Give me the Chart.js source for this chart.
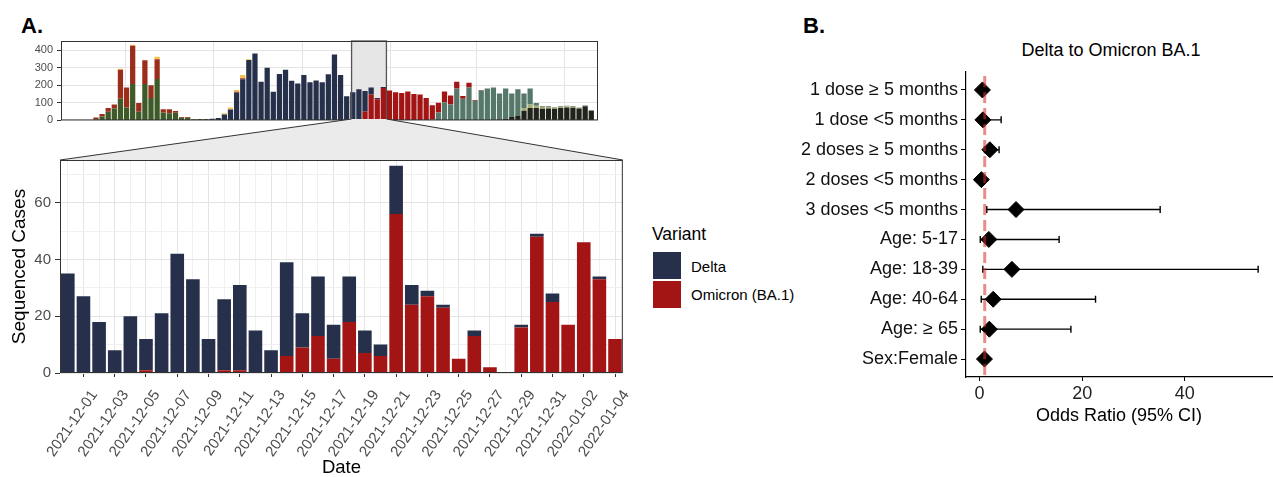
<!DOCTYPE html>
<html lang="en">
<head>
<meta charset="UTF-8" />
<title>Delta to Omicron BA.1</title>
<script src="https://cdn.jsdelivr.net/npm/chart.js"></script>
<style>
  html, body { margin: 0; padding: 0; overflow: hidden; background: #fff; }
  body { position: relative; width: 1273px; height: 477px; font-family: "Liberation Sans", Arial, sans-serif; color: #000; }
  canvas, .txt { position: absolute; }
  .tag { font-weight: bold; font-size: 22px; line-height: 26px; }
  .legend-title { font-size: 17.5px; line-height: 20px; }
  .legend-label { font-size: 15px; line-height: 18px; }
  .swatch { position: absolute; left: 653px; width: 28px; height: 27px; }
</style>
</head>
<body>
  <div class="txt tag" style="left:21px; top:13px;">A.</div>
  <div class="txt tag" style="left:803px; top:13px;">B.</div>

  <canvas id="overview" width="640" height="131" style="left:0; top:0;"></canvas>
  <canvas id="daily" width="640" height="360" style="left:0; top:119px;"></canvas>

  <div class="txt legend-title" style="left:652px; top:224px;">Variant</div>
  <div class="swatch" id="swDelta" style="top:252px;"></div>
  <div class="swatch" id="swOmicron" style="top:281px;"></div>
  <div class="txt legend-label" style="left:691px; top:258px;">Delta</div>
  <div class="txt legend-label" style="left:691px; top:286px;">Omicron (BA.1)</div>

  <div class="txt" style="left:961px; top:39px; width:300px; text-align:center; font-size:18px; line-height:22px;">Delta to Omicron BA.1</div>
  <canvas id="forest" width="501" height="477" style="left:780px; top:0;"></canvas>

<script>
Chart.defaults.font.family = '"Liberation Sans", Arial, Helvetica, sans-serif';

const NAVY = '#27304a';
const RED = '#a31515';

// daily sequenced cases
const dayLabels = [
  '2021-11-30', '2021-12-01', '2021-12-02', '2021-12-03', '2021-12-04', '2021-12-05',
  '2021-12-06', '2021-12-07', '2021-12-08', '2021-12-09', '2021-12-10', '2021-12-11',
  '2021-12-12', '2021-12-13', '2021-12-14', '2021-12-15', '2021-12-16', '2021-12-17',
  '2021-12-18', '2021-12-19', '2021-12-20', '2021-12-21', '2021-12-22', '2021-12-23',
  '2021-12-24', '2021-12-25', '2021-12-26', '2021-12-27', '2021-12-28', '2021-12-29',
  '2021-12-30', '2021-12-31', '2022-01-01', '2022-01-02', '2022-01-03', '2022-01-04'
];
const deltaDaily = [35, 27, 18, 8, 20, 11, 21, 42, 33, 12, 25, 30, 15, 8, 33, 12, 21, 12,
                    16, 8, 4, 17, 7, 2, 1, 0, 2, 0, 0, 1, 1, 3, 0, 0, 1, 0];
const omicronDaily = [0, 0, 0, 0, 0, 1, 0, 0, 0, 0, 1, 1, 0, 0, 6, 9, 13, 5,
                      18, 7, 6, 56, 24, 27, 23, 5, 13, 2, 0, 16, 48, 25, 17, 46, 33, 12];

// weekly counts for the whole period; each run starts at the given week index
const nWeeks = 87;
const alphaWeekly   = weekSeries(5,  [5, 22, 50, 68, 123, 74, 207, 50, 207, 127, 236, 45, 41, 43, 15, 15, 6, 8, 8]);
const epsilonWeekly = weekSeries(5,  [12, 15, 20, 22, 166, 113, 219, 49, 136, 74, 113, 19, 23, 11, 4, 4, 0, 0, 0, 0, 0, 0, 0, 5, 6]);
const otherWeekly   = weekSeries(9,  [5, 0, 5, 0, 0, 0, 14, 0, 0, 0, 0, 0, 0, 0, 0, 0, 0, 8, 12, 10, 19, 5]);
const deltaWeekly   = weekSeries(24, [10, 13, 33, 62, 158, 234, 344, 382, 220, 300, 164, 265, 289, 226, 211, 259, 217, 228,
                                      217, 263, 376, 259, 138, 160, 174, 117, 39, 7, 6]);
const ba1Weekly     = weekSeries(48, [3, 51, 148, 121, 185, 170, 160, 156, 165, 150, 147, 128, 82, 55, 62, 52, 38, 16, 28, 4, 2]);
const ba2Weekly     = weekSeries(60, [5, 45, 103, 90, 182, 123, 187, 112, 171, 182, 184, 149, 172, 134, 152, 84, 92, 15,
                                      4, 4, 3, 3, 3, 3, 2, 2]);
const ba4Weekly     = weekSeries(75, [15, 20, 14, 10, 8, 7, 7, 7, 5, 4, 4]);
const ba5Weekly     = weekSeries(70, [3, 5, 10, 20, 25, 55, 70, 70, 66, 68, 66, 70, 74, 72, 68, 80, 56]);

// date breaks of the overview axis, in weeks
const overviewBreaks = [9.9, 24.3, 38.7, 53.1, 67.3, 81.7];
// span of the daily panel, in overview weeks
const zoomWindow = [46.8, 52.5];

// odds ratios, Delta -> Omicron BA.1
const factorLabels = ['1 dose \u2265 5 months', '1 dose <5 months', '2 doses \u2265 5 months', '2 doses <5 months',
                      '3 doses <5 months', 'Age: 5-17', 'Age: 18-39', 'Age: 40-64', 'Age: \u2265 65', 'Sex:Female'];
const oddsRatio = [0.55, 0.65, 2.0, 0.35, 7.1, 1.8, 6.3, 2.65, 1.9, 0.95];
const ciLower   = [0.2, 0.1, 0.95, 0.1, 1.4, 0.13, 0.63, 0.32, 0.13, 0.7];
const ciUpper   = [1.3, 4.2, 3.8, 0.9, 35.2, 15.5, 54.3, 22.6, 17.8, 1.3];
const orTicks = [0, 20, 40];
const orNull = 1;

function weekSeries(start, counts) {
  const out = new Array(nWeeks).fill(0);
  counts.forEach((c, i) => { out[start + i] = c; });
  return out;
}

document.getElementById('swDelta').style.background = NAVY;
document.getElementById('swOmicron').style.background = RED;

const MAJOR = '#e4e4e4';
const MINOR = '#f0f0f0';

// box around the plotting area
const panelFrame = {
  id: 'panelFrame',
  afterDraw(chart) {
    const { ctx, chartArea: a } = chart;
    ctx.save();
    ctx.strokeStyle = '#333';
    ctx.lineWidth = 1;
    ctx.strokeRect(a.left + 0.5, a.top + 0.5, a.width - 1, a.height - 1);
    ctx.restore();
  }
};

// shaded window on the overview
const zoomWindowBox = {
  id: 'zoomWindowBox',
  beforeDatasetsDraw(chart) {
    const { ctx, chartArea: a, scales: { x } } = chart;
    const xl = x.getPixelForValue(zoomWindow[0]);
    const xr = x.getPixelForValue(zoomWindow[1]);
    ctx.save();
    ctx.fillStyle = '#e6e6e6';
    ctx.fillRect(xl, a.top, xr - xl, a.bottom - a.top);
    ctx.restore();
  },
  afterDatasetsDraw(chart) {
    const { ctx, chartArea: a, scales: { x } } = chart;
    const xl = x.getPixelForValue(zoomWindow[0]);
    const xr = x.getPixelForValue(zoomWindow[1]);
    ctx.save();
    ctx.strokeStyle = '#555';
    ctx.lineWidth = 1.3;
    ctx.strokeRect(xl, a.top, xr - xl, a.bottom - a.top);
    ctx.restore();
  }
};

const overviewSeries = [
  { data: ba5Weekly, color: '#1f231a' },
  { data: ba4Weekly, color: '#a9ad74' },
  { data: ba2Weekly, color: '#56786b' },
  { data: ba1Weekly, color: RED },
  { data: deltaWeekly, color: NAVY },
  { data: alphaWeekly, color: '#3d5a28' },
  { data: epsilonWeekly, color: '#9a2e1b' },
  { data: otherWeekly, color: '#f2c14e' }
];
const weeklyTotals = alphaWeekly.map((_, w) => overviewSeries.reduce((s, d) => s + d.data[w], 0));
const overviewMax = Math.max(...weeklyTotals) * 1.05;

const overview = new Chart(document.getElementById('overview'), {
  type: 'bar',
  data: {
    datasets: overviewSeries.map(s => ({
      data: s.data.map((v, w) => ({ x: w, y: v })),
      backgroundColor: s.color,
      borderWidth: 0,
      barPercentage: 0.86,
      categoryPercentage: 1
    }))
  },
  options: {
    responsive: false,
    animation: false,
    layout: { padding: { left: 0, right: 42, top: 41, bottom: 3 } },
    plugins: { legend: { display: false }, tooltip: { enabled: false } },
    scales: {
      x: {
        type: 'linear',
        stacked: true,
        min: -0.72,
        max: 87.1,
        offset: false,
        afterBuildTicks: s => { s.ticks = overviewBreaks.map(v => ({ value: v })); },
        ticks: { display: false },
        grid: { offset: false, drawTicks: false, color: MAJOR },
        border: { display: false },
        afterFit: s => { s.height = 0; }
      },
      y: {
        stacked: true,
        min: 0,
        max: overviewMax,
        ticks: {
          stepSize: 50,
          includeBounds: false,
          callback: v => (v % 100 === 0 ? v : ''),
          color: '#4d4d4d',
          font: { size: 11 },
          padding: 4
        },
        grid: {
          color: c => (c.tick && c.tick.value % 100 === 0 ? MAJOR : MINOR),
          tickColor: c => (c.tick && c.tick.value % 100 === 0 ? '#333' : 'rgba(0,0,0,0)'),
          tickLength: 4
        },
        border: { display: false },
        afterFit: s => { s.width = 61; }
      }
    }
  },
  plugins: [zoomWindowBox, panelFrame]
});

// grey wedge joining the overview window to the daily panel
const zoomConnector = {
  id: 'zoomConnector',
  beforeDraw(chart) {
    const ox = overview.scales.x;
    const xl = ox.getPixelForValue(zoomWindow[0]);
    const xr = ox.getPixelForValue(zoomWindow[1]);
    const { ctx, chartArea: a } = chart;
    ctx.save();
    ctx.fillStyle = '#ebebeb';
    ctx.beginPath();
    ctx.moveTo(xl, 0);
    ctx.lineTo(xr, 0);
    ctx.lineTo(a.right, a.top);
    ctx.lineTo(a.left, a.top);
    ctx.closePath();
    ctx.fill();
    ctx.strokeStyle = '#333';
    ctx.lineWidth = 1;
    ctx.beginPath();
    ctx.moveTo(xl, 0);
    ctx.lineTo(a.left, a.top);
    ctx.moveTo(xr, 0);
    ctx.lineTo(a.right, a.top);
    ctx.stroke();
    ctx.restore();
  }
};

new Chart(document.getElementById('daily'), {
  type: 'bar',
  data: {
    labels: dayLabels,
    datasets: [
      { label: 'Omicron (BA.1)', data: omicronDaily, backgroundColor: RED },
      { label: 'Delta', data: deltaDaily, backgroundColor: NAVY }
    ]
  },
  options: {
    responsive: false,
    animation: false,
    layout: { padding: { left: 0, right: 17, top: 41, bottom: 0 } },
    datasets: { bar: { barPercentage: 0.87, categoryPercentage: 1, borderWidth: 0 } },
    plugins: { legend: { display: false }, tooltip: { enabled: false } },
    scales: {
      x: {
        stacked: true,
        offset: true,
        grid: {
          offset: false,
          color: c => (c.index % 2 === 1 ? MAJOR : MINOR),
          tickColor: c => (c.index % 2 === 1 ? '#333' : 'rgba(0,0,0,0)'),
          tickLength: 4
        },
        border: { display: false },
        ticks: {
          autoSkip: false,
          minRotation: 55,
          maxRotation: 55,
          labelOffset: 11,
          padding: 10,
          color: '#4d4d4d',
          font: { size: 15 },
          callback: (v, i) => (i % 2 === 1 ? dayLabels[i] : '')
        },
        title: { display: true, text: 'Date', color: '#000', font: { size: 18.5 }, padding: 0 },
        afterFit: s => { s.height = 106; }
      },
      y: {
        stacked: true,
        min: 0,
        max: 75,
        ticks: {
          stepSize: 10,
          includeBounds: false,
          callback: v => (v % 20 === 0 ? v : ''),
          color: '#4d4d4d',
          font: { size: 15 },
          padding: 4
        },
        grid: {
          color: c => (c.tick && c.tick.value % 20 === 0 ? MAJOR : MINOR),
          tickColor: c => (c.tick && c.tick.value % 20 === 0 ? '#333' : 'rgba(0,0,0,0)'),
          tickLength: 5
        },
        border: { display: false },
        title: { display: true, text: 'Sequenced Cases', color: '#000', font: { size: 19 }, padding: { top: 8, bottom: 0 } },
        afterFit: s => { s.width = 60; }
      }
    }
  },
  plugins: [zoomConnector, panelFrame]
});

// confidence intervals behind the diamonds
const errorBars = {
  id: 'errorBars',
  beforeDatasetsDraw(chart) {
    const { ctx, scales: { x, y } } = chart;
    ctx.save();
    ctx.strokeStyle = '#000';
    ctx.lineWidth = 1.4;
    ciLower.forEach((lo, i) => {
      const py = y.getPixelForValue(i + 1);
      const x0 = x.getPixelForValue(lo);
      const x1 = x.getPixelForValue(ciUpper[i]);
      ctx.beginPath();
      ctx.moveTo(x0, py);
      ctx.lineTo(x1, py);
      ctx.moveTo(x0, py - 3.5);
      ctx.lineTo(x0, py + 3.5);
      ctx.moveTo(x1, py - 3.5);
      ctx.lineTo(x1, py + 3.5);
      ctx.stroke();
    });
    ctx.restore();
  }
};

// dashed reference line at OR = 1
const nullLine = {
  id: 'nullLine',
  afterDatasetsDraw(chart) {
    const { ctx, chartArea: a, scales: { x } } = chart;
    const px = x.getPixelForValue(orNull);
    ctx.save();
    ctx.strokeStyle = 'rgba(215, 48, 39, 0.55)';
    ctx.lineWidth = 3;
    ctx.setLineDash([11, 5]);
    ctx.beginPath();
    ctx.moveTo(px, a.top + 4);
    ctx.lineTo(px, a.bottom);
    ctx.stroke();
    ctx.restore();
  }
};

new Chart(document.getElementById('forest'), {
  type: 'scatter',
  data: {
    datasets: [{
      data: oddsRatio.map((v, i) => ({ x: v, y: i + 1 })),
      pointStyle: 'rectRot',
      pointRadius: 8,
      pointHoverRadius: 8,
      backgroundColor: '#000',
      borderColor: '#000',
      borderWidth: 1
    }]
  },
  options: {
    responsive: false,
    animation: false,
    layout: { padding: { left: 0, right: 0, top: 72, bottom: 50 } },
    plugins: { legend: { display: false }, tooltip: { enabled: false } },
    scales: {
      x: {
        type: 'linear',
        min: -2.65,
        max: 57,
        afterBuildTicks: s => { s.ticks = orTicks.map(v => ({ value: v })); },
        grid: { drawOnChartArea: false, tickLength: 4, tickColor: '#000' },
        border: { color: '#000', width: 1.2 },
        ticks: { color: '#222', font: { size: 18 }, padding: 2 },
        title: { display: true, text: 'Odds Ratio (95% CI)', color: '#000', font: { size: 18 }, padding: 0 },
        afterFit: s => { s.height = 50; }
      },
      y: {
        type: 'linear',
        reverse: true,
        min: 0.4,
        max: 10.6,
        afterBuildTicks: s => { s.ticks = factorLabels.map((_, i) => ({ value: i + 1 })); },
        grid: { drawOnChartArea: false, tickLength: 5, tickColor: '#000' },
        border: { color: '#000', width: 1.2 },
        ticks: { autoSkip: false, color: '#111', font: { size: 18 }, padding: 3, callback: v => factorLabels[v - 1] },
        afterFit: s => { s.width = 186; }
      }
    }
  },
  plugins: [errorBars, nullLine]
});
</script>
</body>
</html>
